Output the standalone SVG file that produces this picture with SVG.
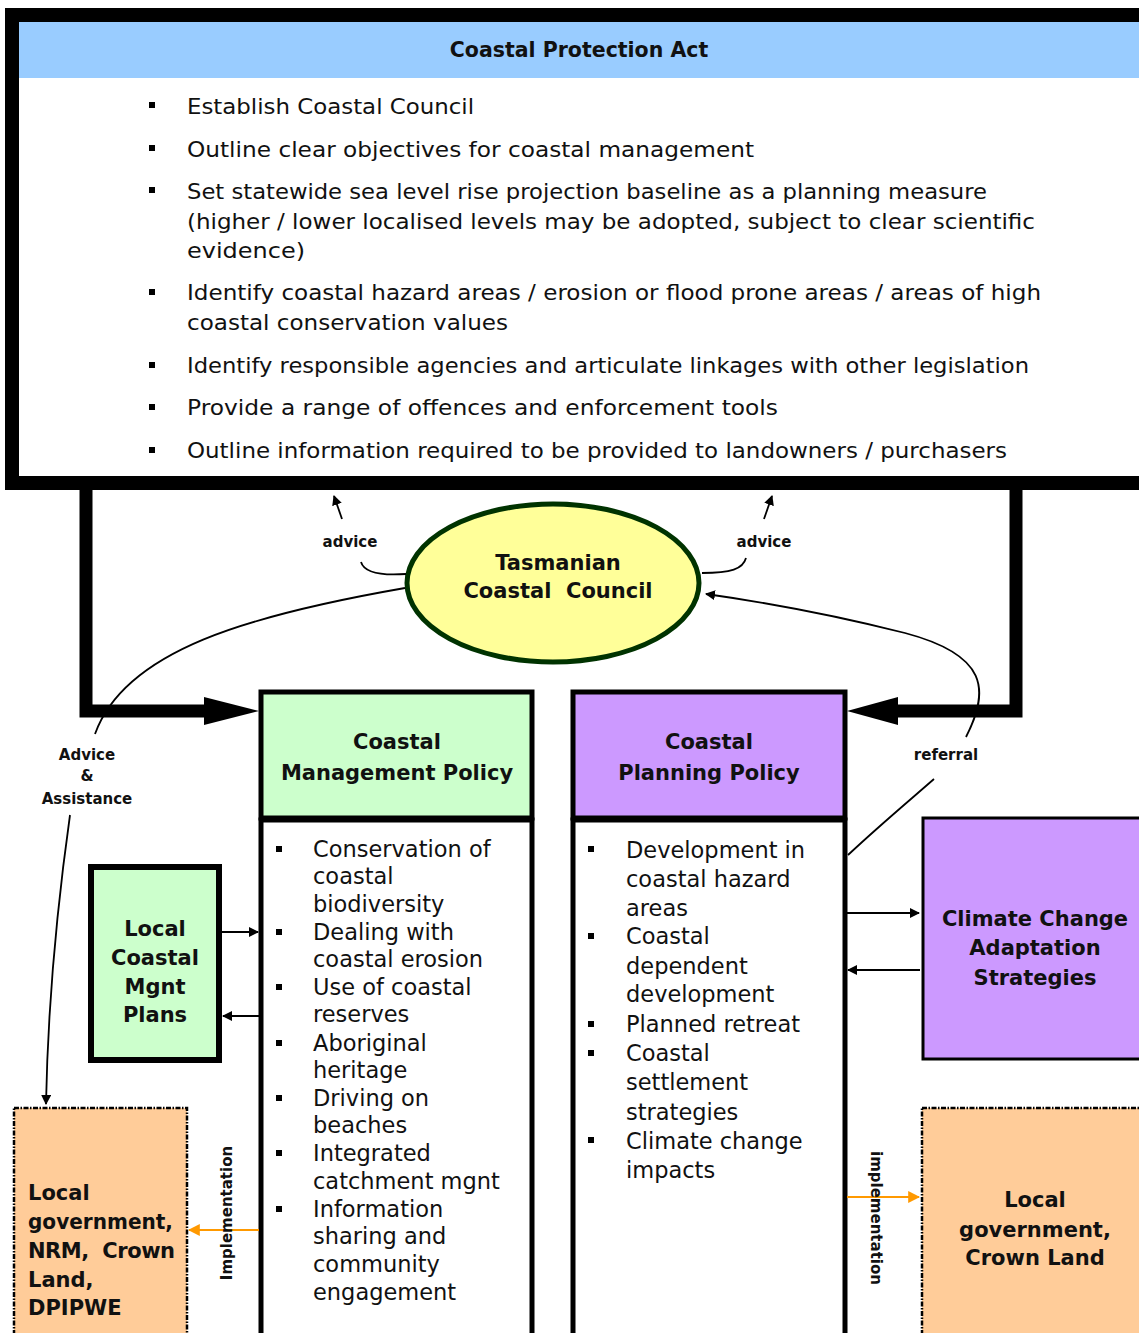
<svg xmlns="http://www.w3.org/2000/svg" width="1139" height="1333" viewBox="0 0 1139 1333">
<defs>
<marker id="ah" viewBox="0 0 10 10" refX="9" refY="5" markerWidth="10" markerHeight="10" markerUnits="userSpaceOnUse" orient="auto"><path d="M0,0 L10,5 L0,10 z" fill="#000"/></marker>
<marker id="ao" viewBox="0 0 10 10" refX="9" refY="5" markerWidth="12" markerHeight="12" markerUnits="userSpaceOnUse" orient="auto"><path d="M0,0 L10,5 L0,10 z" fill="#F90"/></marker>
<style>
text{font-family:"DejaVu Sans","Liberation Sans",sans-serif;fill:#111}
.b{font-weight:bold}
.t{font-size:22.5px}
.h{font-size:21px;font-weight:bold;text-anchor:middle}
.lbl{font-size:15px;font-weight:bold;text-anchor:middle}
.c{stroke:#000;fill:none;stroke-width:1.8}
.thick{stroke:#000;fill:none;stroke-width:13}
.sq{fill:#000}
.dd{stroke:#000;stroke-width:2.5;stroke-dasharray:5,1.5,1.5,1.5}
</style>
</defs>
<rect width="1139" height="1333" fill="#fff"/>

<g id="coastal-protection-act">
<rect x="12" y="15" width="1150" height="468" fill="#fff" stroke="#000" stroke-width="14"/>
<rect x="19" y="22" width="1130" height="56" fill="#99CCFF"/>
<text x="579" y="57" class="b" style="font-size:20.5px;text-anchor:middle">Coastal Protection Act</text>
<g style="font-size:22px">
<rect class="sq" x="149" y="102" width="6" height="6"/><text x="187" y="114" textLength="287" lengthAdjust="spacingAndGlyphs">Establish Coastal Council</text>
<rect class="sq" x="149" y="145" width="6" height="6"/><text x="187" y="157" textLength="567" lengthAdjust="spacingAndGlyphs">Outline clear objectives for coastal management</text>
<rect class="sq" x="149" y="187" width="6" height="6"/><text x="187" y="199" textLength="800" lengthAdjust="spacingAndGlyphs">Set statewide sea level rise projection baseline as a planning measure</text>
<text x="187" y="229" textLength="848" lengthAdjust="spacingAndGlyphs">(higher / lower localised levels may be adopted, subject to clear scientific</text>
<text x="187" y="258" textLength="118" lengthAdjust="spacingAndGlyphs">evidence)</text>
<rect class="sq" x="149" y="289" width="6" height="6"/><text x="187" y="300" textLength="854" lengthAdjust="spacingAndGlyphs">Identify coastal hazard areas / erosion or flood prone areas / areas of high</text>
<text x="187" y="330" textLength="321" lengthAdjust="spacingAndGlyphs">coastal conservation values</text>
<rect class="sq" x="149" y="362" width="6" height="6"/><text x="187" y="373" textLength="842" lengthAdjust="spacingAndGlyphs">Identify responsible agencies and articulate linkages with other legislation</text>
<rect class="sq" x="149" y="404" width="6" height="6"/><text x="187" y="415" textLength="591" lengthAdjust="spacingAndGlyphs">Provide a range of offences and enforcement tools</text>
<rect class="sq" x="149" y="447" width="6" height="6"/><text x="187" y="458" textLength="820" lengthAdjust="spacingAndGlyphs">Outline information required to be provided to landowners / purchasers</text>
</g>
</g>

<g id="tasmanian-coastal-council">
<ellipse cx="553" cy="583" rx="146" ry="79" fill="#FFFF99" stroke="#003300" stroke-width="5"/>
<text x="558" y="570" class="h" style="font-size:21px">Tasmanian</text>
<text x="558" y="598" class="h" style="font-size:21px;white-space:pre">Coastal  Council</text>
</g>

<g id="coastal-management-policy">
<rect x="261" y="692" width="271" height="126" fill="#CCFFCC" stroke="#000" stroke-width="5"/>
<rect x="261" y="820" width="271" height="520" fill="#fff" stroke="#000" stroke-width="5"/>
<text x="397" y="749" class="h">Coastal</text>
<text x="397" y="780" class="h">Management Policy</text>
<g class="t">
<rect class="sq" x="276" y="846" width="6" height="6"/>
<text x="313" y="857">Conservation of</text>
<text x="313" y="884">coastal</text>
<text x="313" y="912">biodiversity</text>
<rect class="sq" x="276" y="929" width="6" height="6"/>
<text x="313" y="940">Dealing with</text>
<text x="313" y="967">coastal erosion</text>
<rect class="sq" x="276" y="984" width="6" height="6"/>
<text x="313" y="995">Use of coastal</text>
<text x="313" y="1022">reserves</text>
<rect class="sq" x="276" y="1040" width="6" height="6"/>
<text x="313" y="1051">Aboriginal</text>
<text x="313" y="1078">heritage</text>
<rect class="sq" x="276" y="1095" width="6" height="6"/>
<text x="313" y="1106">Driving on</text>
<text x="313" y="1133">beaches</text>
<rect class="sq" x="276" y="1150" width="6" height="6"/>
<text x="313" y="1161">Integrated</text>
<text x="313" y="1189">catchment mgnt</text>
<rect class="sq" x="276" y="1206" width="6" height="6"/>
<text x="313" y="1217">Information</text>
<text x="313" y="1244">sharing and</text>
<text x="313" y="1272">community</text>
<text x="313" y="1300">engagement</text>
</g>
</g>

<g id="coastal-planning-policy">
<rect x="573" y="692" width="272" height="126" fill="#CC99FF" stroke="#000" stroke-width="5"/>
<rect x="573" y="820" width="272" height="520" fill="#fff" stroke="#000" stroke-width="5"/>
<text x="709" y="749" class="h">Coastal</text>
<text x="709" y="780" class="h">Planning Policy</text>
<g class="t">
<rect class="sq" x="588" y="846" width="6" height="6"/>
<text x="626" y="858">Development in</text>
<text x="626" y="887">coastal hazard</text>
<text x="626" y="916">areas</text>
<rect class="sq" x="588" y="933" width="6" height="6"/>
<text x="626" y="944">Coastal</text>
<text x="626" y="974">dependent</text>
<text x="626" y="1002">development</text>
<rect class="sq" x="588" y="1021" width="6" height="6"/>
<text x="626" y="1032">Planned retreat</text>
<rect class="sq" x="588" y="1050" width="6" height="6"/>
<text x="626" y="1061">Coastal</text>
<text x="626" y="1090">settlement</text>
<text x="626" y="1120">strategies</text>
<rect class="sq" x="588" y="1137" width="6" height="6"/>
<text x="626" y="1149">Climate change</text>
<text x="626" y="1178">impacts</text>
</g>
</g>

<g id="local-coastal-mgnt-plans">
<rect x="91" y="867" width="128" height="193" fill="#CCFFCC" stroke="#000" stroke-width="6"/>
<text x="155" y="936" class="h">Local</text>
<text x="155" y="965" class="h">Coastal</text>
<text x="155" y="994" class="h">Mgnt</text>
<text x="155" y="1022" class="h">Plans</text>
</g>

<g id="climate-change-adaptation-strategies">
<rect x="923" y="818" width="230" height="241" fill="#CC99FF" stroke="#000" stroke-width="3"/>
<text x="1035" y="926" class="h">Climate Change</text>
<text x="1035" y="955" class="h">Adaptation</text>
<text x="1035" y="985" class="h">Strategies</text>
</g>

<g id="local-government-left">
<rect x="14" y="1108" width="173" height="235" fill="#FFCC99" class="dd"/>
<text x="28" y="1200" class="b" style="font-size:21px">Local</text>
<text x="28" y="1229" class="b" style="font-size:21px" textLength="145" lengthAdjust="spacingAndGlyphs">government,</text>
<text x="28" y="1258" class="b" style="font-size:21px;white-space:pre" textLength="147" lengthAdjust="spacing">NRM,  Crown</text>
<text x="28" y="1287" class="b" style="font-size:21px">Land,</text>
<text x="28" y="1315" class="b" style="font-size:21px">DPIPWE</text>
</g>

<g id="local-government-right">
<rect x="922" y="1108" width="230" height="235" fill="#FFCC99" class="dd"/>
<text x="1035" y="1207" class="h">Local</text>
<text x="1035" y="1237" class="h">government,</text>
<text x="1035" y="1265" class="h">Crown Land</text>
</g>

<g id="connectors">
<path class="thick" d="M86,489 V711 H210"/>
<polygon points="204,697 259,711 204,725" fill="#000"/>
<path class="thick" d="M1016,489 V711 H892"/>
<polygon points="898,697 847,711 898,725" fill="#000"/>

<path class="c" d="M342,519 L334,496" marker-end="url(#ah)"/>
<text x="350" y="547" class="lbl">advice</text>
<path class="c" d="M361,562 C364,572 378,576 406,574"/>
<path class="c" d="M764,519 L772,496" marker-end="url(#ah)"/>
<text x="764" y="547" class="lbl">advice</text>
<path class="c" d="M746,558 C743,569 731,573 702,573"/>

<path class="c" d="M405,588 C250,615 125,650 95,734"/>
<text x="87" y="760" class="lbl">Advice</text>
<text x="87" y="781" class="lbl">&amp;</text>
<text x="87" y="804" class="lbl">Assistance</text>
<path class="c" d="M70,815 C58,900 48,1000 46,1104" marker-end="url(#ah)"/>

<path class="c" d="M848,855 C880,825 910,800 934,779"/>
<text x="946" y="760" class="lbl">referral</text>
<path class="c" d="M966,737 C990,690 988,655 905,633 C830,614 770,603 706,594" marker-end="url(#ah)"/>

<path class="c" d="M222,932 H258" marker-end="url(#ah)"/>
<path class="c" d="M259,1016 H223" marker-end="url(#ah)"/>
<path class="c" d="M847,913 H919" marker-end="url(#ah)"/>
<path class="c" d="M920,970 H848" marker-end="url(#ah)"/>

<path d="M259,1230 H189" stroke="#F90" stroke-width="2" fill="none" marker-end="url(#ao)"/>
<text transform="translate(232,1213) rotate(-90)" class="lbl">Implementation</text>
<path d="M847,1197 H919" stroke="#F90" stroke-width="2" fill="none" marker-end="url(#ao)"/>
<text transform="translate(871,1218) rotate(90)" class="lbl">implementation</text>
</g>
</svg>
